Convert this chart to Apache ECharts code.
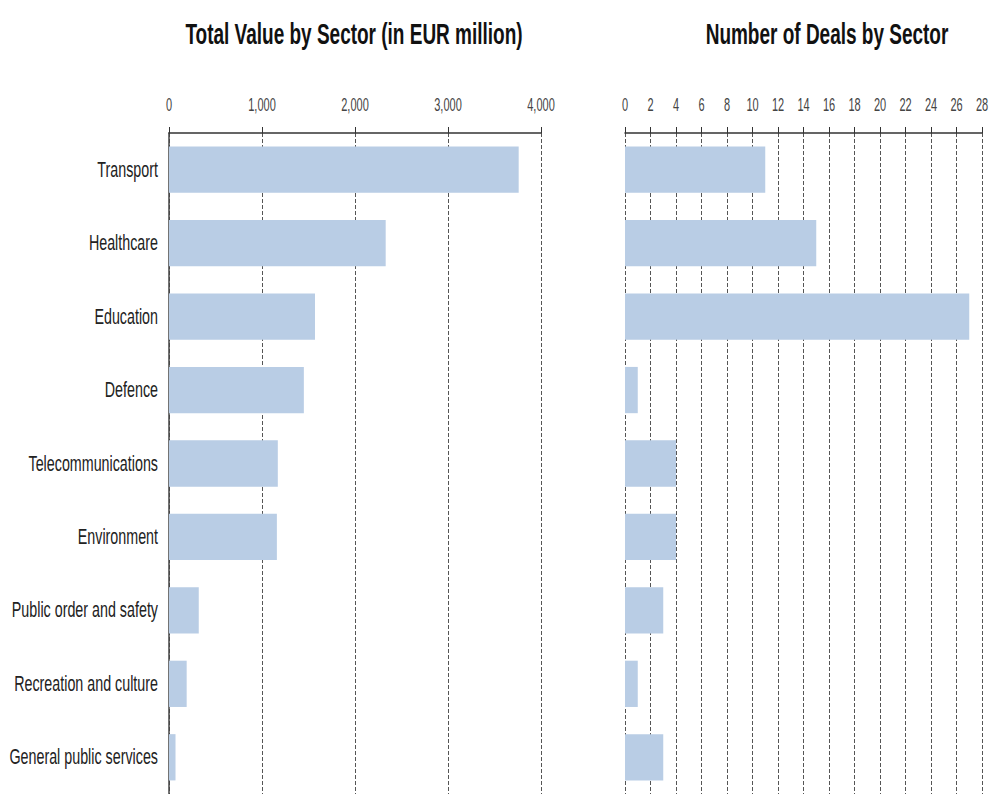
<!DOCTYPE html>
<html>
<head>
<meta charset="utf-8">
<script src="https://cdn.jsdelivr.net/npm/echarts@6/dist/echarts.min.js"></script>
<style>
  html, body { margin: 0; padding: 0; background: #fff; }
  #chart { width: 990px; height: 794px; }
</style>
</head>
<body>
<div id="chart"></div>
<script>
var sectors = [
  'Transport',
  'Healthcare',
  'Education',
  'Defence',
  'Telecommunications',
  'Environment',
  'Public order and safety',
  'Recreation and culture',
  'General public services'
];
var totalValue = [3760, 2330, 1570, 1450, 1170, 1160, 320, 190, 70];
var dealCount = [11, 15, 27, 1, 4, 4, 3, 1, 3];

var font = "'Liberation Sans', Arial, sans-serif";
var barColor = '#b9cde5';
var ink = '#222';
var gridColor = '#555';

// the original uses a narrow, tall face; stretch text vertically by font size
var titleSize = 19, catSize = 14.3, tickSize = 11;
var stretch = {};
stretch[titleSize] = 1.6;
stretch[catSize] = 1.5;
stretch[tickSize] = 1.65;

function thousands(v) {
  return String(v).replace(/\B(?=(\d{3})+(?!\d))/g, ',');
}

var chart = echarts.init(document.getElementById('chart'), null, { renderer: 'svg' });
chart.setOption({
  animation: false,
  title: [
    {
      text: 'Total Value by Sector (in EUR million)',
      left: 349, top: 19, textAlign: 'center',
      textStyle: { fontFamily: font, fontSize: titleSize, fontWeight: 'bold', color: '#111' }
    },
    {
      text: 'Number of Deals by Sector',
      left: 822, top: 19, textAlign: 'center',
      textStyle: { fontFamily: font, fontSize: titleSize, fontWeight: 'bold', color: '#111' }
    }
  ],
  grid: [
    { left: 169, right: 449, top: 133, bottom: 0, outerBoundsMode: 'none', containLabel: false },
    { left: 625, right: 8, top: 133, bottom: 0, outerBoundsMode: 'none', containLabel: false }
  ],
  xAxis: [
    {
      gridIndex: 0,
      type: 'value',
      position: 'top',
      min: 0, max: 4000, interval: 1000,
      axisLine: { show: true, lineStyle: { color: '#333', width: 1.5 } },
      axisTick: { show: true, length: 6, lineStyle: { color: '#333' } },
      axisLabel: { color: '#444', fontFamily: font, fontSize: tickSize, margin: 23, formatter: thousands },
      splitLine: { show: true, lineStyle: { color: gridColor, type: [4, 2], width: 1 } }
    },
    {
      gridIndex: 1,
      type: 'value',
      position: 'top',
      min: 0, max: 28, interval: 2,
      axisLine: { show: true, lineStyle: { color: '#333', width: 1.5 } },
      axisTick: { show: true, length: 6, lineStyle: { color: '#333' } },
      axisLabel: { color: '#444', fontFamily: font, fontSize: tickSize, margin: 23 },
      splitLine: { show: true, lineStyle: { color: gridColor, type: [4, 2], width: 1 } }
    }
  ],
  yAxis: [
    {
      gridIndex: 0,
      type: 'category',
      data: sectors,
      inverse: true,
      axisLine: { show: true, lineStyle: { color: '#444', width: 1.5 } },
      axisTick: { show: false },
      axisLabel: { color: ink, fontFamily: font, fontSize: catSize, margin: 11 }
    },
    {
      gridIndex: 1,
      type: 'category',
      data: sectors,
      inverse: true,
      axisLine: { show: false },
      axisTick: { show: false },
      axisLabel: { show: false }
    }
  ],
  series: [
    {
      type: 'bar',
      xAxisIndex: 0, yAxisIndex: 0,
      data: totalValue,
      barWidth: '63%',
      itemStyle: { color: barColor }
    },
    {
      type: 'bar',
      xAxisIndex: 1, yAxisIndex: 1,
      data: dealCount,
      barWidth: '63%',
      itemStyle: { color: barColor }
    }
  ]
});

function stretchText() {
  var texts = document.querySelectorAll('#chart svg text');
  texts.forEach(function(t) {
    if (t.getAttribute('data-stretched')) return;
    var size = parseFloat(getComputedStyle(t).fontSize);
    var sy = stretch[size];
    if (!sy) return;
    var x = parseFloat(t.getAttribute('x')) || 0;
    var y = parseFloat(t.getAttribute('y')) || 0;
    var tr = t.getAttribute('transform') || '';
    t.setAttribute('transform', tr + ' translate(' + x + ' ' + y + ') scale(1 ' + sy + ') translate(' + (-x) + ' ' + (-y) + ')');
    t.setAttribute('data-stretched', '1');
  });
}
stretchText();
chart.on('finished', stretchText);
</script>
</body>
</html>
